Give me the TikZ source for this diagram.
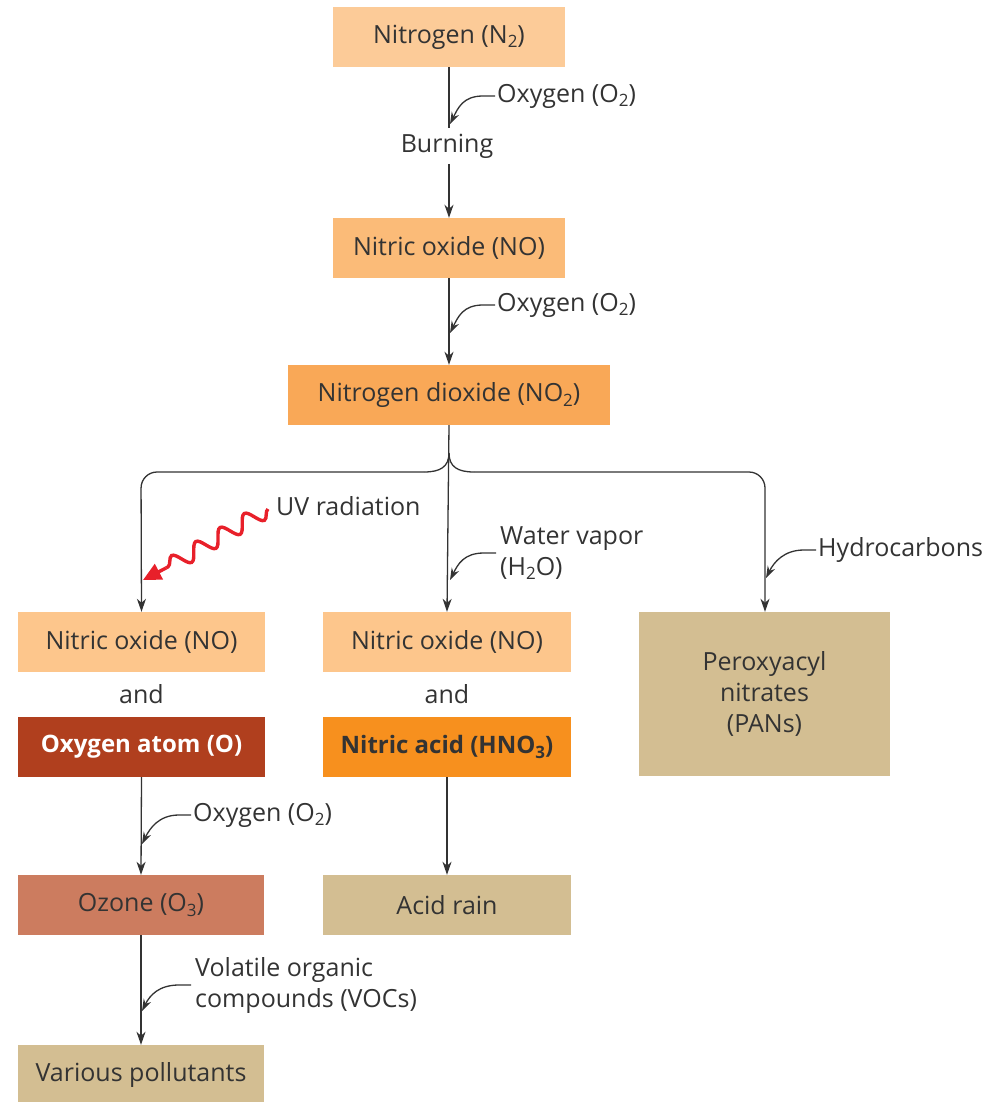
\documentclass[tikz,border=0pt]{standalone}
\usepackage{fontspec}
\setmainfont{Open Sans}
\usetikzlibrary{arrows.meta,decorations.pathmorphing,calc}
\newcommand\subs[1]{\raisebox{-0.35ex}{\fontsize{17}{17}\selectfont #1}}
\definecolor{cN}{HTML}{FCCB98}
\definecolor{cNO}{HTML}{FBBB78}
\definecolor{cNOt}{HTML}{F9A857}
\definecolor{cNOl}{HTML}{FDC68C}
\definecolor{cOat}{HTML}{B03F1E}
\definecolor{cHN}{HTML}{F7901E}
\definecolor{cTan}{HTML}{D3BE92}
\definecolor{cOz}{HTML}{CC7C5F}
\definecolor{cTxt}{HTML}{333333}
\definecolor{cUV}{HTML}{E8202A}
\begin{document}
\begin{tikzpicture}[x=1pt,y=1pt,
  box/.style={inner sep=0pt, minimum height=60pt, text=cTxt, font=\fontsize{25}{31}\selectfont, align=center},
  lbl/.style={inner sep=0pt, text=cTxt, font=\fontsize{25}{31}\selectfont, align=left},
  mainarr/.style={draw=cTxt, line width=1.3pt, -{Stealth[length=13pt,width=9pt,inset=4pt]}},
  feed/.style={draw=cTxt, line width=1.3pt, -{Stealth[length=12pt,width=8pt,inset=4pt]}},
  plain/.style={draw=cTxt, line width=1.3pt}]
\useasboundingbox (0,0) rectangle (1007,-1102);

% boxes
\node[box, fill=cN, minimum width=232pt] (n2) at (449,-37) {Nitrogen (N\subs{2})};
\node[lbl, anchor=center] (burn) at (447,-146) {Burning};
\node[box, fill=cNO, minimum width=232pt] (no) at (449,-248) {Nitric oxide (NO)};
\node[box, fill=cNOt, minimum width=322pt] (no2) at (449,-395) {Nitrogen dioxide (NO\subs{2})};

\node[box, fill=cNOl, minimum width=247pt] (noL) at (141.5,-642) {Nitric oxide (NO)};
\node[lbl] (andL) at (141.5,-694) {and};
\node[box, fill=cOat, minimum width=247pt, text=white, font=\fontsize{24}{30}\selectfont\bfseries] (oat) at (141.5,-747) {Oxygen atom (O)};
\node[box, fill=cOz, minimum width=246pt] (oz) at (141,-905) {Ozone (O\subs{3})};
\node[box, fill=cTan, minimum width=246pt] (var) at (141,-1075) {Various pollutants};

\node[box, fill=cNOl, minimum width=248pt] (noM) at (447,-642) {Nitric oxide (NO)};
\node[lbl] (andM) at (447,-694) {and};
\node[box, fill=cHN, minimum width=248pt, font=\fontsize{24}{30}\selectfont\bfseries] (hno) at (447,-747) {Nitric acid (HNO\subs{3})};
\node[box, fill=cTan, minimum width=248pt] (acid) at (447,-905) {Acid rain};

\node[box, fill=cTan, minimum width=251pt, minimum height=164pt] (pan) at (764.5,-694) {Peroxyacyl\\nitrates\\(PANs)};

% labels
\node[lbl, anchor=west] (ox1) at (497,-96) {Oxygen (O\subs{2})};
\node[lbl, anchor=west] (ox2) at (497,-305) {Oxygen (O\subs{2})};
\node[lbl, anchor=west] (ox3) at (193,-815) {Oxygen (O\subs{2})};
\node[lbl, anchor=west] (uv) at (276,-506) {UV radiation};
\node[lbl, anchor=west] (wv) at (500,-553) {Water vapor\\(H\subs{2}O)};
\node[lbl, anchor=west] (hc) at (818,-550) {Hydrocarbons};
\node[lbl, anchor=west] (voc) at (195,-985) {Volatile organic\\compounds (VOCs)};

% main vertical connectors
\draw[plain] (n2.south) -- (449,-128);
\draw[mainarr] (449,-164) -- (no.north);
\draw[mainarr] (no.south) -- (no2.north);
\draw[mainarr] (no2.south) -- (noM.north);
\draw[mainarr] (oat.south) -- (oz.north);
\draw[mainarr] (oz.south) -- (var.north);
\draw[mainarr] (hno.south) -- (acid.north);

% branching brace
\coordinate (cusp) at (449,-453);
\coordinate (lc) at (141,-472);
\coordinate (rc) at (765,-472);
\draw[plain] (cusp) .. controls (449,-467) and (440,-472) .. (424,-472);
\draw[plain] (cusp) .. controls (449,-467) and (458,-472) .. (474,-472);
\draw[mainarr, rounded corners=16pt] (424,-472) -- (lc) -- (noL.north);
\draw[mainarr, rounded corners=16pt] (474,-472) -- (rc) -- (rc |- pan.north);

% feeder arrows
\coordinate (f1) at (450,-124);
\coordinate (f2) at (450,-333);
\coordinate (f3) at (142,-844);
\coordinate (f4) at (142,-1011);
\coordinate (f5) at (450,-580);
\coordinate (f6) at (766,-578);
\draw[feed] ($(ox1.west)+(-2,0)$) -- ++(-12,0) .. controls +(-20,0) and +(8,16) .. (f1);
\draw[feed] ($(ox2.west)+(-2,0)$) -- ++(-12,0) .. controls +(-20,0) and +(8,16) .. (f2);
\draw[feed] ($(ox3.west)+(-2,0)$) -- ++(-12,0) .. controls +(-20,0) and +(8,16) .. (f3);
\draw[feed] ($(voc.west)+(-4,0)$) -- ++(-12,0) .. controls +(-20,0) and +(8,16) .. (f4);
\draw[feed] ($(wv.west)+(-4,0)$) -- ++(-12,0) .. controls +(-20,0) and +(8,16) .. (f5);
\draw[feed] ($(hc.west)+(-2,0)$) -- ++(-12,0) .. controls +(-20,0) and +(8,16) .. (f6);

% UV wavy arrow
\coordinate (uvs) at (268,-509);
\coordinate (uvm) at (166,-568);
\coordinate (uve) at (143,-580);
\draw[cUV, line width=3.4pt, decorate, decoration={snake, segment length=28pt, amplitude=8pt, post length=2pt}] (uvs) -- (uvm);
\draw[cUV, line width=3.4pt, -{Triangle[length=18pt,width=17pt]}] (uvm) -- (uve);
\end{tikzpicture}
\end{document}
